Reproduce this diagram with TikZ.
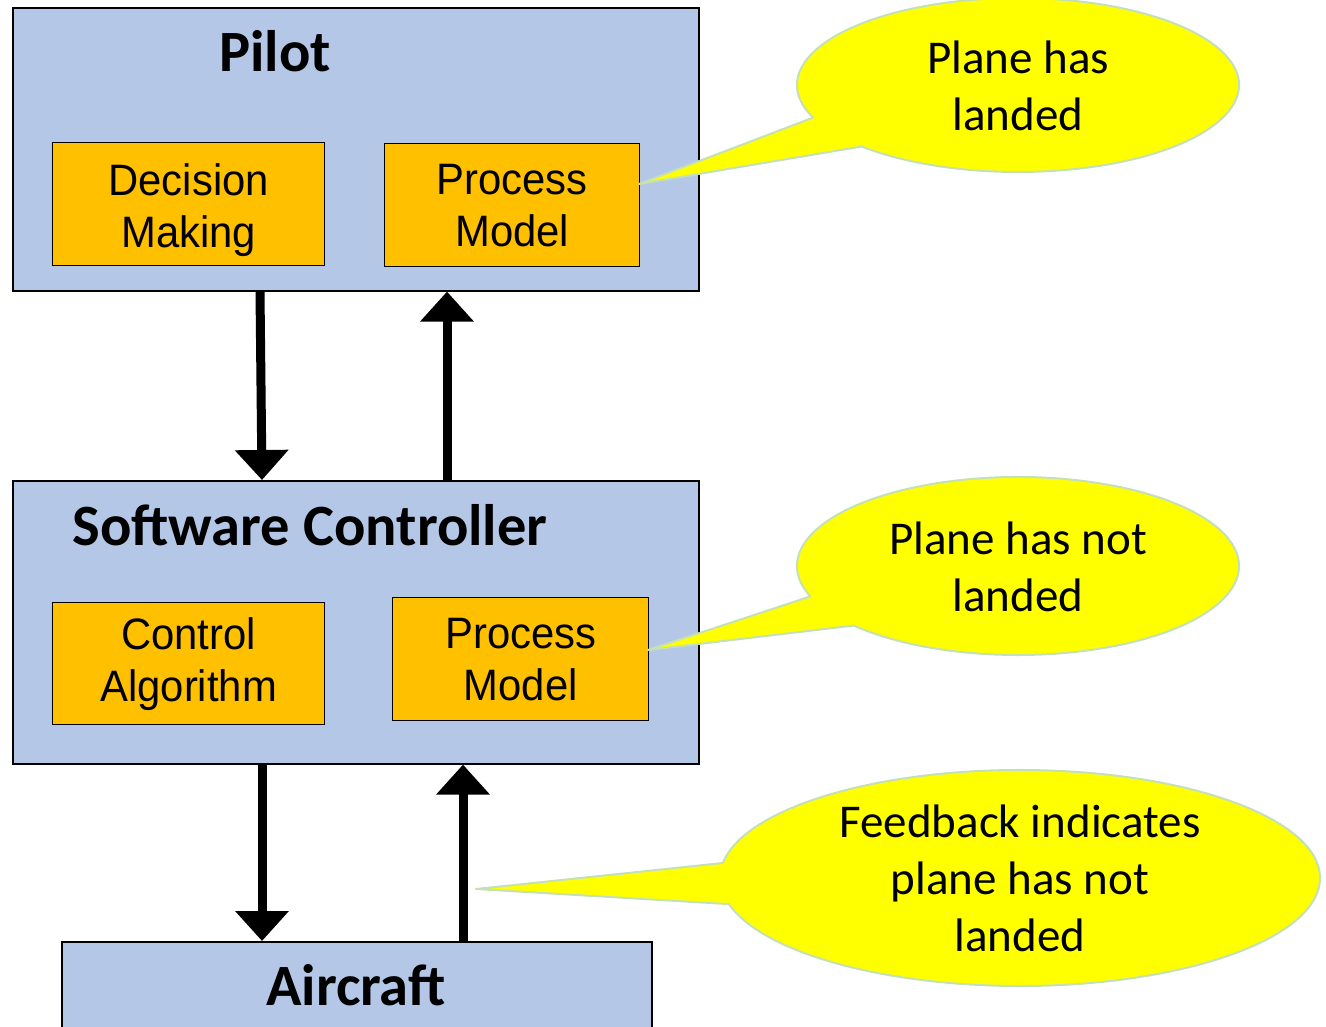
\documentclass[tikz,border=0pt]{standalone}
\usepackage{fontspec}
\setmainfont{Carlito}
\newfontfamily\boxfont[FakeStretch=0.95]{Liberation Sans}
\usetikzlibrary{arrows.meta}
\definecolor{boxblue}{RGB}{180,199,231}
\definecolor{boxorange}{RGB}{255,192,0}
\definecolor{calloutyellow}{RGB}{255,255,0}
\definecolor{calloutedge}{RGB}{197,224,180}
\tikzset{
  outerbox/.style={draw=black, line width=1.6pt, fill=boxblue, anchor=north west, inner sep=0pt},
  innerbox/.style={draw=black, line width=1.4pt, fill=boxorange, anchor=north west, inner sep=0pt,
    align=center, font=\boxfont\fontsize{44}{52}\selectfont},
  titletext/.style={font=\bfseries\fontsize{58.5}{66}\selectfont, inner sep=0pt, anchor=base},
  callouttext/.style={font=\fontsize{47}{57}\selectfont, align=center, inner sep=0pt},
  callout/.style={fill=calloutyellow, draw=calloutedge, line width=2pt, line join=round},
  flow/.style={line width=9pt, -{Triangle[width=52pt,length=30pt]}}
}
\begin{document}
\begin{tikzpicture}[x=1pt,y=-1pt]
\useasboundingbox (0,0) rectangle (1326,1027);
% outer boxes
\node[outerbox, minimum width=686pt, minimum height=283pt] (pilot) at (12,7) {};
\node[outerbox, minimum width=686pt, minimum height=283pt] (sc) at (12,480) {};
\node[outerbox, minimum width=590pt, minimum height=100pt] (aircraft) at (61,941) {};
% titles
\node[titletext] (pilottitle) at (275,72) {Pilot};
\node[titletext] (sctitle) at (310,545) {Software Controller};
\node[titletext] (actitle) at (356,1005) {Aircraft};
% inner boxes
\node[innerbox, minimum width=272pt, minimum height=123pt] (dm) at (52,142) {\rule{0pt}{44pt}Decision\\Making};
\node[innerbox, minimum width=255pt, minimum height=123pt] (pm1) at (384,143) {Process\\Model};
\node[innerbox, minimum width=272pt, minimum height=122pt] (ca) at (52,602) {Control\\Algorithm};
\node[innerbox, minimum width=256pt, minimum height=123pt] (pm2) at (392,597) {Process\\Model};
% arrows
\draw[flow] (pilot.south -| 260,0) -- (sc.north -| 262,0);
\draw[flow] (sc.north -| 447,0) -- (pilot.south -| 447,0);
\draw[flow] (sc.south -| 262,0) -- (aircraft.north -| 262,0);
\draw[flow] (aircraft.north -| 463,0) -- (sc.south -| 463,0);
% callout 1
\coordinate (c1) at (1018,85);
\coordinate (t1) at (639,184);
\draw[callout] (c1) ++(158:221 and 87) arc[start angle=158, end angle=495, x radius=221, y radius=87] -- (t1) -- cycle;
\node[callouttext] (c1text) at (1018,86) {Plane has\\landed};
% callout 2
\coordinate (c2) at (1018,566);
\coordinate (t2) at (648,650);
\draw[callout] (c2) ++(160:221 and 89) arc[start angle=160, end angle=498, x radius=221, y radius=89] -- (t2) -- cycle;
\node[callouttext] (c2text) at (1018,567) {Plane has not\\landed};
% callout 3
\coordinate (c3) at (1020,878);
\coordinate (t3) at (476,889);
\draw[callout] (c3) ++(188:300 and 108) arc[start angle=188, end angle=526, x radius=300, y radius=108] -- (t3) -- cycle;
\node[callouttext] (c3text) at (1020,878) {Feedback indicates\\plane has not\\landed};
\end{tikzpicture}
\end{document}
